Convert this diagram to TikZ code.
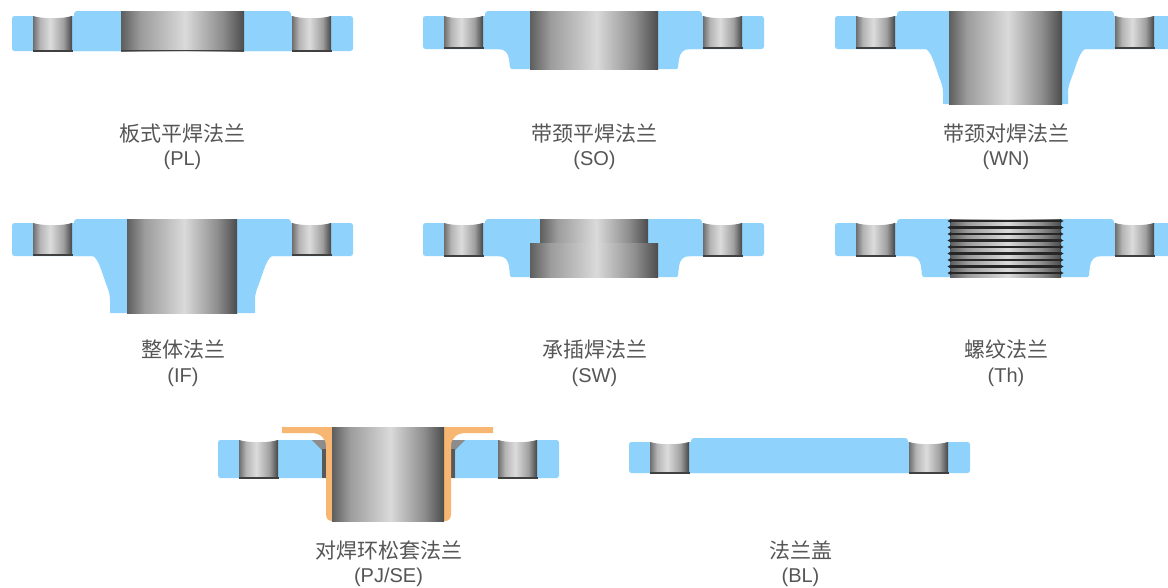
\documentclass[tikz,border=0pt]{standalone}
\usepackage{fontspec}
\setmainfont{Liberation Sans}
\newfontfamily\cjkfont{Noto Sans CJK SC}
\definecolor{steel}{HTML}{8FD3FD}
\definecolor{lapring}{HTML}{F8B673}
\definecolor{labelgray}{HTML}{555555}
\definecolor{sa}{HTML}{5E5E5E}
\definecolor{sb}{HTML}{9C9C9C}
\definecolor{sc}{HTML}{DADADA}
\definecolor{sd}{HTML}{8E8E8E}
\definecolor{se}{HTML}{4C4C4C}
\definecolor{ha}{HTML}{6E6E6E}
\definecolor{hb}{HTML}{B4B4B4}
\definecolor{hc}{HTML}{DCDCDC}
\definecolor{hd}{HTML}{A0A0A0}
\definecolor{he}{HTML}{454545}
\pgfdeclarehorizontalshading{boreshade}{100bp}{color(0bp)=(sa); color(25bp)=(sa); color(33bp)=(sb); color(51bp)=(sc); color(66bp)=(sd); color(75bp)=(se); color(100bp)=(se)}
\pgfdeclarehorizontalshading{holeshade}{100bp}{color(0bp)=(ha); color(25bp)=(ha); color(34bp)=(hb); color(47bp)=(hc); color(64bp)=(hd); color(75bp)=(he); color(100bp)=(he)}
\tikzset{
  body/.style={fill=steel,draw=none,rounded corners=2.5pt},
  bore/.style={shading=boreshade,draw=none},
  hole/.style={shading=holeshade,draw=none},
  darkedge/.style={draw=black!75,line width=1.6pt},
  ring/.style={fill=lapring,draw=none},
  caption/.style={font=\fontsize{20}{24.5}\selectfont,text=labelgray,align=center,inner sep=0pt,anchor=center},
  threadline/.style={draw=black!85,line width=2.5pt},
  threadtip/.style={fill=black!85,draw=none}
}
\newcommand{\cn}[1]{{\cjkfont\fontsize{21}{24.5}\selectfont #1}}
% plate: left x, top y, bottom y, raised-face top y
\newcommand{\plateshape}[4]{%
  \fill[body] (#1,#2) rectangle (#1+341,#3);
  \fill[steel] (#1+62,#3) [rounded corners=3pt] -- (#1+62,#4) -- (#1+279,#4) [sharp corners] -- (#1+279,#3) -- cycle;
}
% two bolt holes: left x of the plate, top, bottom
\newcommand{\boltholes}[3]{%
  \foreach \hx in {21,280}{
    \fill[white] (#1+\hx,#2-1) rectangle (#1+\hx+39,#2+4);
    \path[hole] (#1+\hx,#2) .. controls (#1+\hx+10,#2+3) and (#1+\hx+29,#2+3) .. (#1+\hx+39,#2) -- (#1+\hx+39,#3) -- (#1+\hx,#3) -- cycle;
    \draw[darkedge] (#1+\hx-0.5,#3-0.3) -- (#1+\hx+39.5,#3-0.3);
  }
}
\newcommand{\hubshort}[4]{%
  \fill[steel] (#1-12,#3-2) -- (#1-12,#3) .. controls (#1-5,#3) and (#1-2,#3+4) .. (#1-1,#3+10) -- (#1,#4-1.5) -- (#1+1.5,#4) -- (#2-1.5,#4) -- (#2,#4-1.5) -- (#2+1,#3+10) .. controls (#2+2,#3+4) and (#2+5,#3) .. (#2+12,#3) -- (#2+12,#3-2) -- cycle;
}
\newcommand{\hublong}[4]{%
  \fill[steel] (#1-17,#3-2) -- (#1-17,#3) .. controls (#1-12,#3+3) and (#1-9,#3+13) .. (#1-5,#3+25) .. controls (#1-2,#3+33) and (#1,#3+37) .. (#1,#3+44) -- (#1,#4) -- (#2,#4) -- (#2,#3+44) .. controls (#2,#3+37) and (#2+2,#3+33) .. (#2+5,#3+25) .. controls (#2+9,#3+13) and (#2+12,#3+3) .. (#2+17,#3) -- (#2+17,#3-2) -- cycle;
}
\begin{document}
\begin{tikzpicture}[x=1pt,y=-1pt]
\useasboundingbox (0,0) rectangle (1168,587);
\clip (0,0) rectangle (1168,587);

% PL
\plateshape{12}{16}{51}{11}
\boltholes{12}{16}{51}
\path[bore] (121,11) rectangle (244,51);
\draw[darkedge] (121,50.5) -- (244,50.5);

% SO
\hubshort{510}{678}{49}{69}
\plateshape{423}{16}{49}{11}
\boltholes{423}{16}{48}
\path[bore] (530,11) rectangle (658,69);

% WN
\hublong{943}{1068}{49}{104}
\plateshape{835}{16}{49}{11}
\boltholes{835}{16}{48}
\path[bore] (949,11) rectangle (1062,104);

% IF
\hublong{110}{255}{256}{313}
\plateshape{12}{223}{256}{219}
\boltholes{12}{223}{255}
\path[bore] (127,219) rectangle (237,313);

% SW
\hubshort{510}{678}{256}{277}
\plateshape{423}{223}{256}{219}
\boltholes{423}{223}{256}
\path[bore] (540,219) rectangle (648,243);
\path[bore] (530,243) rectangle (658,277);

% Th
\hubshort{922}{1089}{256}{277}
\plateshape{835}{223}{256}{219}
\boltholes{835}{223}{256}
\path[bore] (950,219) rectangle (1061,277);
\foreach \ty in {0,...,8}{
  \fill[threadtip] (947.5,221+6.5*\ty) -- (951,219+6.5*\ty) -- (951,223+6.5*\ty) -- cycle;
  \fill[threadtip] (1063.5,221+6.5*\ty) -- (1060,219+6.5*\ty) -- (1060,223+6.5*\ty) -- cycle;
  \draw[threadline] (950,221+6.5*\ty) -- (1061,221+6.5*\ty);
}

% PJ/SE
\fill[body] (218,440) rectangle (559,478);
\fill[white] (322,446) rectangle (455,480);
\boltholes{218}{440}{478}
% chamfered gaps between the plate and the stub end
\fill[black!45] (312,440) -- (326,440) -- (326,478) -- (322,478) -- (322,450) -- cycle;
\fill[black!65] (322,449) rectangle (327,478);
\fill[black!45] (465,440) -- (451,440) -- (451,478) -- (455,478) -- (455,450) -- cycle;
\fill[black!65] (450,449) rectangle (455,478);
\fill[ring] (282,427) -- (493,427) -- (493,433) -- (466,433) .. controls (457,433) and (451,438) .. (451,446) -- (451,514) .. controls (451,518) and (449,521) .. (445,521) -- (332,521) .. controls (328,521) and (326,518) .. (326,514) -- (326,446) .. controls (326,438) and (320,433) .. (311,433) -- (282,433) -- cycle;
\path[bore] (332,427) rectangle (444,521);

% BL
\plateshape{629}{442}{473}{438}
\boltholes{629}{442}{473}

% captions
\node[caption] (pl) at (182.5,146.5) {\cn{板式平焊法兰}\\(PL)};
\node[caption] (so) at (594.5,146.5) {\cn{带颈平焊法兰}\\(SO)};
\node[caption] (wn) at (1006,146.5) {\cn{带颈对焊法兰}\\(WN)};
\node[caption] (if) at (183,363) {\cn{整体法兰}\\(IF)};
\node[caption] (sw) at (594.5,363) {\cn{承插焊法兰}\\(SW)};
\node[caption] (th) at (1006,363) {\cn{螺纹法兰}\\(Th)};
\node[caption] (pj) at (388.5,563.5) {\cn{对焊环松套法兰}\\(PJ/SE)};
\node[caption] (bl) at (800.5,563.5) {\cn{法兰盖}\\(BL)};
\end{tikzpicture}
\end{document}
